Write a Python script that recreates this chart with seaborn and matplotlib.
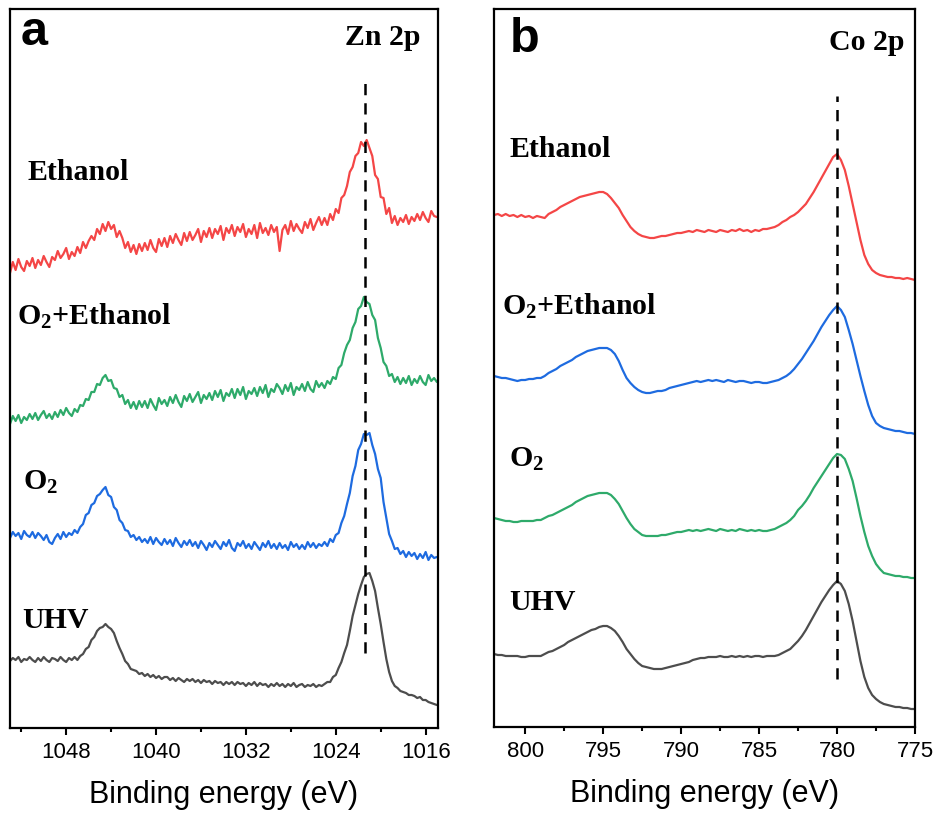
import numpy as np
import pandas as pd
import seaborn as sns
import matplotlib
matplotlib.use("Agg")
import matplotlib.pyplot as plt
from matplotlib.ticker import MultipleLocator

# ---------------- data ----------------
# Panel a: Zn 2p, binding energy grid (eV), 0.25 eV step, 1053 -> 1015
zn_energy = np.arange(1053.0, 1014.99, -0.25)
zn_ethanol = [
    455, 466, 458, 469, 461, 457, 467, 462,
    470, 460, 468, 463, 472, 466, 461, 471,
    468, 477, 470, 474, 480, 469, 476, 472,
    481, 475, 486, 480, 487, 492, 488, 499,
    494, 504, 497, 506, 499, 503, 491, 497,
    490, 480, 486, 476, 483, 474, 484, 477,
    485, 478, 488, 480, 476, 489, 482, 490,
    481, 492, 485, 494, 488, 483, 495, 487,
    496, 488, 493, 499, 486, 497, 491, 500,
    490, 499, 494, 502, 488, 500, 495, 503,
    492, 501, 496, 504, 491, 499, 494, 503,
    490, 505, 495, 500, 493, 503, 496, 501,
    477, 498, 503, 494, 507, 497, 504, 499,
    495, 506, 500, 509, 498, 505, 511, 503,
    510, 503, 514, 508, 519, 515, 530, 533,
    542, 556, 561, 572, 575, 586, 582, 588,
    580, 572, 553, 549, 531, 530, 514, 520,
    505, 512, 503, 510, 506, 513, 504, 511,
    507, 514, 508, 516, 510, 506, 517, 512,
    511]
zn_o2_ethanol = [
    304, 312, 307, 313, 305, 311, 308, 314,
    309, 315, 308, 313, 317, 310, 314, 309,
    316, 311, 318, 313, 320, 315, 312, 319,
    316, 323, 322, 329, 328, 336, 336, 344,
    343, 350, 353, 347, 348, 340, 339, 331,
    333, 324, 328, 320, 326, 319, 327, 321,
    327, 320, 329, 323, 318, 330, 324, 328,
    322, 331, 325, 333, 326, 321, 332, 327,
    334, 326, 331, 336, 325, 333, 329, 335,
    328, 337, 331, 338, 327, 335, 332, 339,
    330, 339, 333, 341, 329, 337, 334, 340,
    332, 341, 335, 343, 331, 339, 336, 344,
    340, 334, 343, 337, 345, 333, 341, 338,
    344, 337, 346, 339, 336, 347, 341, 345,
    340, 347, 344, 351, 349, 360, 363, 375,
    383, 388, 400, 406, 419, 422, 431, 426,
    424, 413, 408, 390, 380, 366, 362, 352,
    354, 346, 351, 344, 350, 345, 352, 343,
    349, 345, 352, 346, 343, 353, 347, 350,
    346]
zn_o2 = [
    190, 196, 192, 195, 189, 197, 193, 191,
    196, 190, 195, 192, 188, 193, 186, 184,
    190, 194, 189, 196, 191, 195, 193, 198,
    195, 201, 204, 213, 215, 223, 225, 232,
    234, 238, 241, 233, 231, 221, 218, 208,
    205, 198, 197, 191, 193, 188, 191, 186,
    189, 185, 191, 184, 190, 186, 183, 189,
    184, 188, 182, 190, 185, 181, 187, 183,
    188, 182, 186, 180, 187, 183, 178, 185,
    181, 187, 183, 179, 186, 182, 188, 180,
    177, 185, 182, 187, 180, 184, 179, 186,
    182, 178, 185, 181, 187, 180, 184, 179,
    185, 180, 183, 178, 186, 181, 184, 179,
    183, 179, 186, 181, 185, 180, 184, 182,
    186, 182, 189, 186, 193, 195, 205, 212,
    224, 235, 252, 262, 278, 284, 294, 293,
    295, 283, 274, 259, 250, 226, 210, 194,
    187, 179, 180, 174, 177, 171, 176, 172,
    175, 169, 174, 170, 176, 168, 173, 170,
    171]
zn_uhv = [
    67, 70, 68, 71, 66, 69, 68, 71,
    68, 66, 70, 67, 71, 68, 66, 70,
    69, 67, 71, 68, 66, 70, 68, 71,
    68, 72, 74, 79, 81, 88, 91, 97,
    100, 101, 104, 101, 99, 95, 87, 80,
    74, 67, 64, 59, 58, 57, 54, 55,
    52, 54, 51, 53, 50, 52, 49, 51,
    51, 48, 50, 47, 50, 48, 46, 49,
    47, 49, 46, 48, 45, 48, 46, 47,
    44, 47, 45, 46, 43, 46, 44, 46,
    43, 46, 44, 45, 42, 45, 43, 46,
    42, 45, 43, 44, 41, 44, 42, 45,
    42, 44, 41, 44, 42, 45, 41, 43,
    44, 41, 43, 42, 44, 41, 43, 42,
    44, 46, 46, 51, 53, 60, 66, 75,
    83, 97, 112, 123, 134, 143, 151, 154,
    155, 147, 137, 120, 104, 86, 69, 56,
    47, 42, 40, 37, 36, 35, 33, 33,
    32, 30, 31, 28, 28, 26, 25, 24,
    23]

# Panel b: Co 2p, 0.25 eV step, 802 -> 775
co_energy = np.arange(802.0, 774.99, -0.25)
co_ethanol = [
    512, 513, 511, 513, 511, 512, 510, 512,
    510, 511, 509, 511, 510, 509, 513, 515,
    517, 520, 522, 524, 526, 528, 530, 531,
    532, 533, 534, 535, 535, 533, 529, 524,
    519, 512, 506, 500, 496, 493, 491, 490,
    489, 489, 490, 491, 491, 492, 493, 494,
    494, 495, 496, 495, 497, 496, 495, 497,
    496, 495, 497, 496, 495, 497, 496, 498,
    496, 497, 495, 497, 496, 498, 498, 499,
    500, 502, 505, 507, 510, 512, 515, 519,
    523, 529, 535, 542, 549, 556, 563, 570,
    573, 567, 557, 541, 523, 505, 487, 472,
    463, 457, 454, 452, 451, 450, 450, 449,
    449, 448, 449, 448, 447]
co_o2_ethanol = [
    351, 350, 349, 349, 348, 347, 346, 347,
    347, 348, 348, 349, 349, 351, 354, 356,
    358, 361, 363, 365, 367, 370, 372, 374,
    376, 377, 378, 379, 379, 379, 377, 373,
    366, 357, 349, 344, 340, 337, 335, 334,
    334, 335, 336, 336, 337, 339, 340, 341,
    342, 343, 344, 345, 346, 345, 346, 347,
    346, 347, 346, 345, 347, 346, 345, 346,
    346, 345, 344, 345, 345, 344, 344, 345,
    346, 347, 349, 351, 354, 358, 363, 368,
    374, 380, 386, 393, 400, 406, 412, 417,
    421, 417, 410, 397, 383, 367, 351, 336,
    322, 311, 304, 301, 299, 298, 297, 296,
    296, 295, 294, 294, 293]
co_o2 = [
    209, 208, 207, 206, 206, 205, 205, 206,
    206, 206, 206, 207, 207, 209, 211, 212,
    214, 216, 218, 220, 222, 225, 227, 229,
    231, 232, 233, 234, 234, 234, 232, 228,
    223, 216, 209, 203, 198, 195, 192, 191,
    191, 191, 191, 192, 192, 193, 194, 195,
    195, 196, 197, 196, 197, 196, 197, 198,
    197, 196, 198, 197, 196, 197, 196, 198,
    197, 196, 197, 196, 197, 196, 196, 197,
    198, 200, 202, 204, 207, 211, 217, 221,
    226, 232, 239, 245, 251, 257, 263, 269,
    273, 272, 268, 258, 246, 229, 211, 195,
    181, 171, 163, 158, 154, 153, 152, 151,
    151, 150, 150, 149, 149]
co_uhv = [
    73, 72, 72, 71, 71, 71, 71, 70,
    70, 71, 71, 71, 71, 73, 75, 76,
    78, 80, 82, 85, 87, 89, 91, 93,
    95, 97, 98, 100, 101, 101, 99, 96,
    91, 85, 78, 73, 68, 64, 61, 60,
    59, 58, 58, 58, 59, 60, 61, 62,
    63, 64, 65, 67, 68, 69, 69, 70,
    70, 70, 71, 70, 70, 71, 70, 71,
    70, 71, 70, 71, 71, 70, 71, 71,
    71, 72, 74, 76, 78, 82, 86, 91,
    97, 104, 111, 118, 125, 131, 137, 142,
    146, 143, 136, 123, 106, 86, 66, 50,
    39, 32, 28, 25, 23, 22, 21, 20,
    20, 19, 19, 18, 18]

zn_peak = 1021.4
co_peak = 780.0
xticks_a = [1048, 1040, 1032, 1024, 1016]
xticks_b = [800, 795, 790, 785, 780, 775]

# ---------------- style ----------------
sns.set_style("ticks")
plt.rcParams["font.family"] = ["Liberation Sans", "DejaVu Sans"]
plt.rcParams["text.color"] = "black"
plt.rcParams["axes.labelcolor"] = "black"
plt.rcParams["xtick.color"] = "black"
plt.rcParams["xtick.labelcolor"] = "black"
plt.rcParams["mathtext.fontset"] = "custom"
plt.rcParams["mathtext.rm"] = "Liberation Serif:bold"
plt.rcParams["mathtext.it"] = "Liberation Serif:bold"
plt.rcParams["mathtext.bf"] = "Liberation Serif:bold"
plt.rcParams["mathtext.default"] = "rm"

C_RED = "#F44646"
C_GREEN = "#2EAA6A"
C_BLUE = "#1E6BE0"
C_GRAY = "#4D4D4D"

W, H = 939, 814
fig = plt.figure(figsize=(W / 100, H / 100), dpi=100)

def axrect(l, t, r, b):
    return [l / W, 1 - b / H, (r - l) / W, (b - t) / H]

axa = fig.add_axes(axrect(10, 9, 438, 728))
axb = fig.add_axes(axrect(494, 9, 915, 727))

na, nb = len(zn_energy), len(co_energy)
df_a = pd.DataFrame({
    "E": np.concatenate([zn_energy] * 4),
    "I": zn_ethanol + zn_o2_ethanol + zn_o2 + zn_uhv,
    "s": ["Ethanol"] * na + ["O2+Ethanol"] * na + ["O2"] * na + ["UHV"] * na,
})
df_b = pd.DataFrame({
    "E": np.concatenate([co_energy] * 4),
    "I": co_ethanol + co_o2_ethanol + co_o2 + co_uhv,
    "s": ["Ethanol"] * nb + ["O2+Ethanol"] * nb + ["O2"] * nb + ["UHV"] * nb,
})

pal_a = {"Ethanol": C_RED, "O2+Ethanol": C_GREEN, "O2": C_BLUE, "UHV": C_GRAY}
pal_b = {"Ethanol": C_RED, "O2+Ethanol": C_BLUE, "O2": C_GREEN, "UHV": C_GRAY}

sns.lineplot(data=df_a, x="E", y="I", hue="s", palette=pal_a, sort=False,
             estimator=None, linewidth=1.6, legend=False, ax=axa)
sns.lineplot(data=df_b, x="E", y="I", hue="s", palette=pal_b, sort=False,
             estimator=None, linewidth=1.6, legend=False, ax=axb)

axa.plot([zn_peak, zn_peak], [75, 651], color="black", lw=1.8,
         dashes=(4.5, 3.2))
axb.plot([co_peak, co_peak], [48, 631], color="black", lw=1.8,
         dashes=(4.5, 3.2))

axa.set_xlim(1053, 1014.9)
axa.set_ylim(0, 719)
axb.set_xlim(802, 775)
axb.set_ylim(0, 718)

for ax, minor, ticks in [(axa, 4, xticks_a), (axb, 2.5, xticks_b)]:
    ax.set_xticks(ticks)
    ax.xaxis.set_minor_locator(MultipleLocator(minor))
    ax.set_yticks([])
    ax.set_ylabel("")
    ax.set_xlabel("Binding energy (eV)", fontsize=22, labelpad=12,
                  color="black")
    ax.tick_params(axis="x", which="major", direction="out", length=5,
                   width=1.5, labelsize=16, pad=5, colors="black")
    ax.tick_params(axis="x", which="minor", direction="out", length=3,
                   width=1.5, colors="black")
    for sp in ax.spines.values():
        sp.set_visible(True)
        sp.set_linewidth(1.6)
        sp.set_color("black")

def ftext(x, y, s, **kw):
    fig.text(x / W, 1 - y / H, s, va="baseline", ha="left", color="black",
             **kw)

serif = dict(family=["Liberation Serif", "DejaVu Serif"], fontweight="bold",
             fontsize=21.5)
# Panel a labels
ftext(21, 45, "a", family=["Liberation Sans"], fontweight="bold", fontsize=35)
ftext(345, 45, "Zn 2p", **serif)
ftext(27, 180, "Ethanol", **serif)
ftext(17, 325, "O$_2$+Ethanol", **serif)
ftext(23, 490, "O$_2$", **serif)
ftext(22, 628, "UHV", **serif)
# Panel b labels
ftext(510, 52, "b", family=["Liberation Sans"], fontweight="bold", fontsize=35)
ftext(829, 50, "Co 2p", **serif)
ftext(510, 157, "Ethanol", **serif)
ftext(502, 315, "O$_2$+Ethanol", **serif)
ftext(509, 467, "O$_2$", **serif)
ftext(509, 610, "UHV", **serif)

fig.savefig("out.png", dpi=100)
